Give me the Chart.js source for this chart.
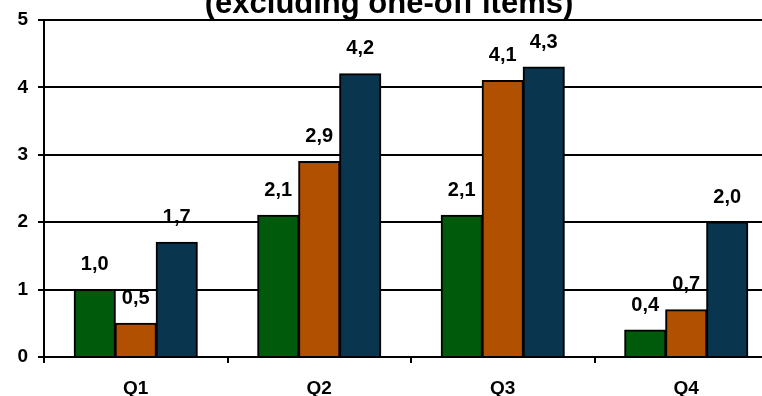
<!DOCTYPE html>
<html>
<head>
<meta charset="utf-8">
<script src="https://cdn.jsdelivr.net/npm/chart.js@4"></script>
<style>
html,body{margin:0;padding:0;background:#fff;overflow:hidden;}
#wrap{position:relative;width:762px;height:396px;overflow:hidden;}
#c{position:absolute;left:0;top:-11px;}
</style>
</head>
<body>
<div id="wrap"><canvas id="c" width="778" height="407"></canvas></div>
<script>
const categories = ["Q1", "Q2", "Q3", "Q4"];
const seriesGreen = [1.0, 2.1, 2.1, 0.4];
const seriesOrange = [0.5, 2.9, 4.1, 0.7];
const seriesBlue = [1.7, 4.2, 4.3, 2.0];
const yTicks = [0, 1, 2, 3, 4, 5];
const titleText = "(excluding one-off items)";

const FONT = "'Liberation Sans', Arial, sans-serif";

const labelPlugin = {
  id: 'barLabels',
  afterDatasetsDraw(chart) {
    const ctx = chart.ctx;
    ctx.save();
    ctx.font = "bold 20px " + FONT;
    ctx.fillStyle = "#000";
    ctx.textAlign = "center";
    ctx.textBaseline = "middle";
    chart.data.datasets.forEach((ds, i) => {
      const meta = chart.getDatasetMeta(i);
      meta.data.forEach((el, j) => {
        const v = ds.data[j];
        ctx.fillText(v.toFixed(1).replace('.', ','), el.x, el.y - 25);
      });
    });
    ctx.restore();
  }
};

new Chart(document.getElementById('c'), {
  type: 'bar',
  data: {
    labels: categories,
    datasets: [
      {data: seriesGreen, backgroundColor: '#005A0C', borderColor: '#000', borderWidth: 2, inflateAmount: 0.6},
      {data: seriesOrange, backgroundColor: '#B05000', borderColor: '#000', borderWidth: 2, inflateAmount: 0.6},
      {data: seriesBlue, backgroundColor: '#0A354E', borderColor: '#000', borderWidth: 2, inflateAmount: 0.6}
    ]
  },
  options: {
    responsive: false,
    devicePixelRatio: 1,
    animation: false,
    layout: {padding: 0},
    datasets: {bar: {categoryPercentage: 0.67, barPercentage: 1.0}},
    plugins: {
      legend: {display: false},
      tooltip: {enabled: false},
      title: {
        display: true,
        text: titleText,
        color: '#000',
        font: {family: FONT, size: 31, weight: 'bold', lineHeight: 1},
        padding: {top: 0, bottom: 0}
      }
    },
    scales: {
      x: {
        afterFit(s) { s.height = 39; },
        grid: {offset: true, drawOnChartArea: false, color: '#000', lineWidth: 2, tickLength: 6},
        border: {display: true, color: '#000', width: 2},
        ticks: {color: '#000', font: {family: FONT, size: 19, weight: 'bold'}, padding: 14}
      },
      y: {
        min: 0, max: 5,
        afterFit(s) { s.width = 44; },
        afterBuildTicks(s) { s.ticks = yTicks.map(v => ({value: v})); },
        grid: {color: '#000', lineWidth: 2, tickLength: 6},
        border: {display: true, color: '#000', width: 2},
        ticks: {color: '#000', font: {family: FONT, size: 19, weight: 'bold'}, padding: 10}
      }
    }
  },
  plugins: [labelPlugin]
});
</script>
</body>
</html>
